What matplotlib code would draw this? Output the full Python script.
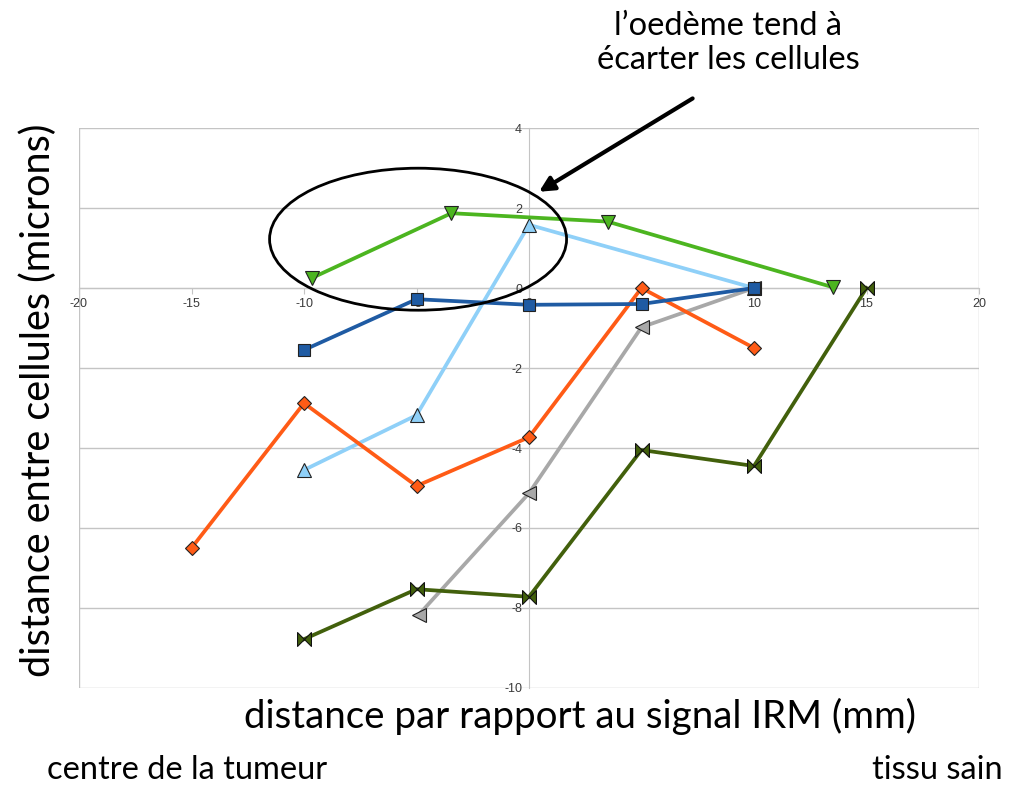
import matplotlib
matplotlib.use("Agg")
import matplotlib.pyplot as plt
from matplotlib.patches import Ellipse
from matplotlib.path import Path

# data
blue_x = [-10, -5, 0, 5, 10]
blue_y = [-1.55, -0.28, -0.42, -0.4, 0.0]
orange_x = [-15, -10, -5, 0, 5, 10]
orange_y = [-6.5, -2.88, -4.95, -3.73, 0.0, -1.5]
lightblue_x = [-10, -5, 0, 10]
lightblue_y = [-4.55, -3.18, 1.58, 0.0]
green_x = [-9.65, -3.45, 3.5, 13.5]
green_y = [0.25, 1.87, 1.66, 0.02]
gray_x = [-4.9, 0, 5, 10]
gray_y = [-8.17, -5.13, -0.98, 0.0]
olive_x = [-10, -5, 0, 5, 10, 15]
olive_y = [-8.78, -7.53, -7.72, -4.05, -4.45, 0.0]

xticks = [-20, -15, -10, -5, 0, 5, 10, 15, 20]
yticks = [-10, -8, -6, -4, -2, 0, 2, 4]

FONT = "Lato"
GRID = "#c4c4c4"
plt.rcParams["axes.unicode_minus"] = False

# bowtie marker
bowtie = Path([(-1, -1), (1, 1), (1, -1), (-1, 1), (-1, -1)],
              [Path.MOVETO, Path.LINETO, Path.LINETO, Path.LINETO, Path.CLOSEPOLY])

fig = plt.figure(figsize=(10.11, 7.85), dpi=100)
ax = fig.add_axes([79/1011, 1-688/785, 900/1011, 560/785])
ax.set_xlim(-20, 20)
ax.set_ylim(-10, 4)

for y in yticks:
    ax.axhline(y, color=GRID, lw=1, zorder=0)
for x in [-20, 20]:
    ax.axvline(x, color=GRID, lw=1, zorder=0)

for s in ["top", "right"]:
    ax.spines[s].set_visible(False)
ax.spines["left"].set_position(("data", 0))
ax.spines["bottom"].set_position(("data", 0))
ax.spines["left"].set_color(GRID)
ax.spines["bottom"].set_color(GRID)
ax.spines["left"].set_zorder(0)
ax.spines["bottom"].set_zorder(0)

ax.set_xticks(xticks)
ax.set_yticks(yticks)
ax.tick_params(axis="x", length=4, color=GRID, labelsize=9, labelcolor="#3a3a3a", pad=3)
ax.tick_params(axis="y", length=0, labelsize=9, labelcolor="#3a3a3a", pad=5)
for lab in ax.get_xticklabels() + ax.get_yticklabels():
    lab.set_family("Liberation Sans")

lw = 2.7
ms = 10
ax.plot(lightblue_x, lightblue_y, color="#8fd0f8", lw=lw, marker="^", ms=ms,
        mfc="#8fd0f8", mec="#222222", mew=0.8, zorder=3)
ax.plot(gray_x, gray_y, color="#a8a8a8", lw=lw, marker="<", ms=ms,
        mfc="#a8a8a8", mec="#222222", mew=0.8, zorder=3)
ax.plot(orange_x, orange_y, color="#ff5b16", lw=lw, marker="D", ms=7.5,
        mfc="#ff5b16", mec="#222222", mew=0.8, zorder=4)
ax.plot(olive_x, olive_y, color="#42600c", lw=lw, marker=bowtie, ms=ms,
        mfc="#42600c", mec="#111111", mew=0.8, zorder=4)
ax.plot(blue_x, blue_y, color="#1f5ba3", lw=lw, marker="s", ms=9,
        mfc="#1f5ba3", mec="#222222", mew=0.8, zorder=5)
ax.plot(green_x, green_y, color="#4cb520", lw=lw, marker="v", ms=ms,
        mfc="#4cb520", mec="#222222", mew=0.8, zorder=5)

ell = Ellipse((-4.93, 1.22), 13.2, 3.55, fill=False, ec="black", lw=2, zorder=6)
ax.add_patch(ell)

ax.annotate("", xy=(0.34, 2.37), xycoords="data",
            xytext=(695/1011, 1-97/785), textcoords="figure fraction",
            arrowprops=dict(arrowstyle="-|>", color="black", lw=3, mutation_scale=22),
            zorder=7, annotation_clip=False)

fig.text(728/1011, 1-43/785, "l\u2019oedème tend à\nécarter les cellules", ha="center",
         va="center", fontsize=23.5, family=FONT, linespacing=1.2)
fig.text(38/1011, 1-400/785, "distance entre cellules (microns)", rotation=90,
         ha="center", va="center", fontsize=28.5, family=FONT)
fig.text(580/1011, 1-716/785, "distance par rapport au signal IRM (mm)",
         ha="center", va="center", fontsize=27.7, family=FONT)
fig.text(47/1011, 1-770/785, "centre de la tumeur", ha="left", va="center",
         fontsize=23.5, family=FONT)
fig.text(1003/1011, 1-770/785, "tissu sain", ha="right", va="center",
         fontsize=23.5, family=FONT)

fig.savefig("out.png", dpi=100)
